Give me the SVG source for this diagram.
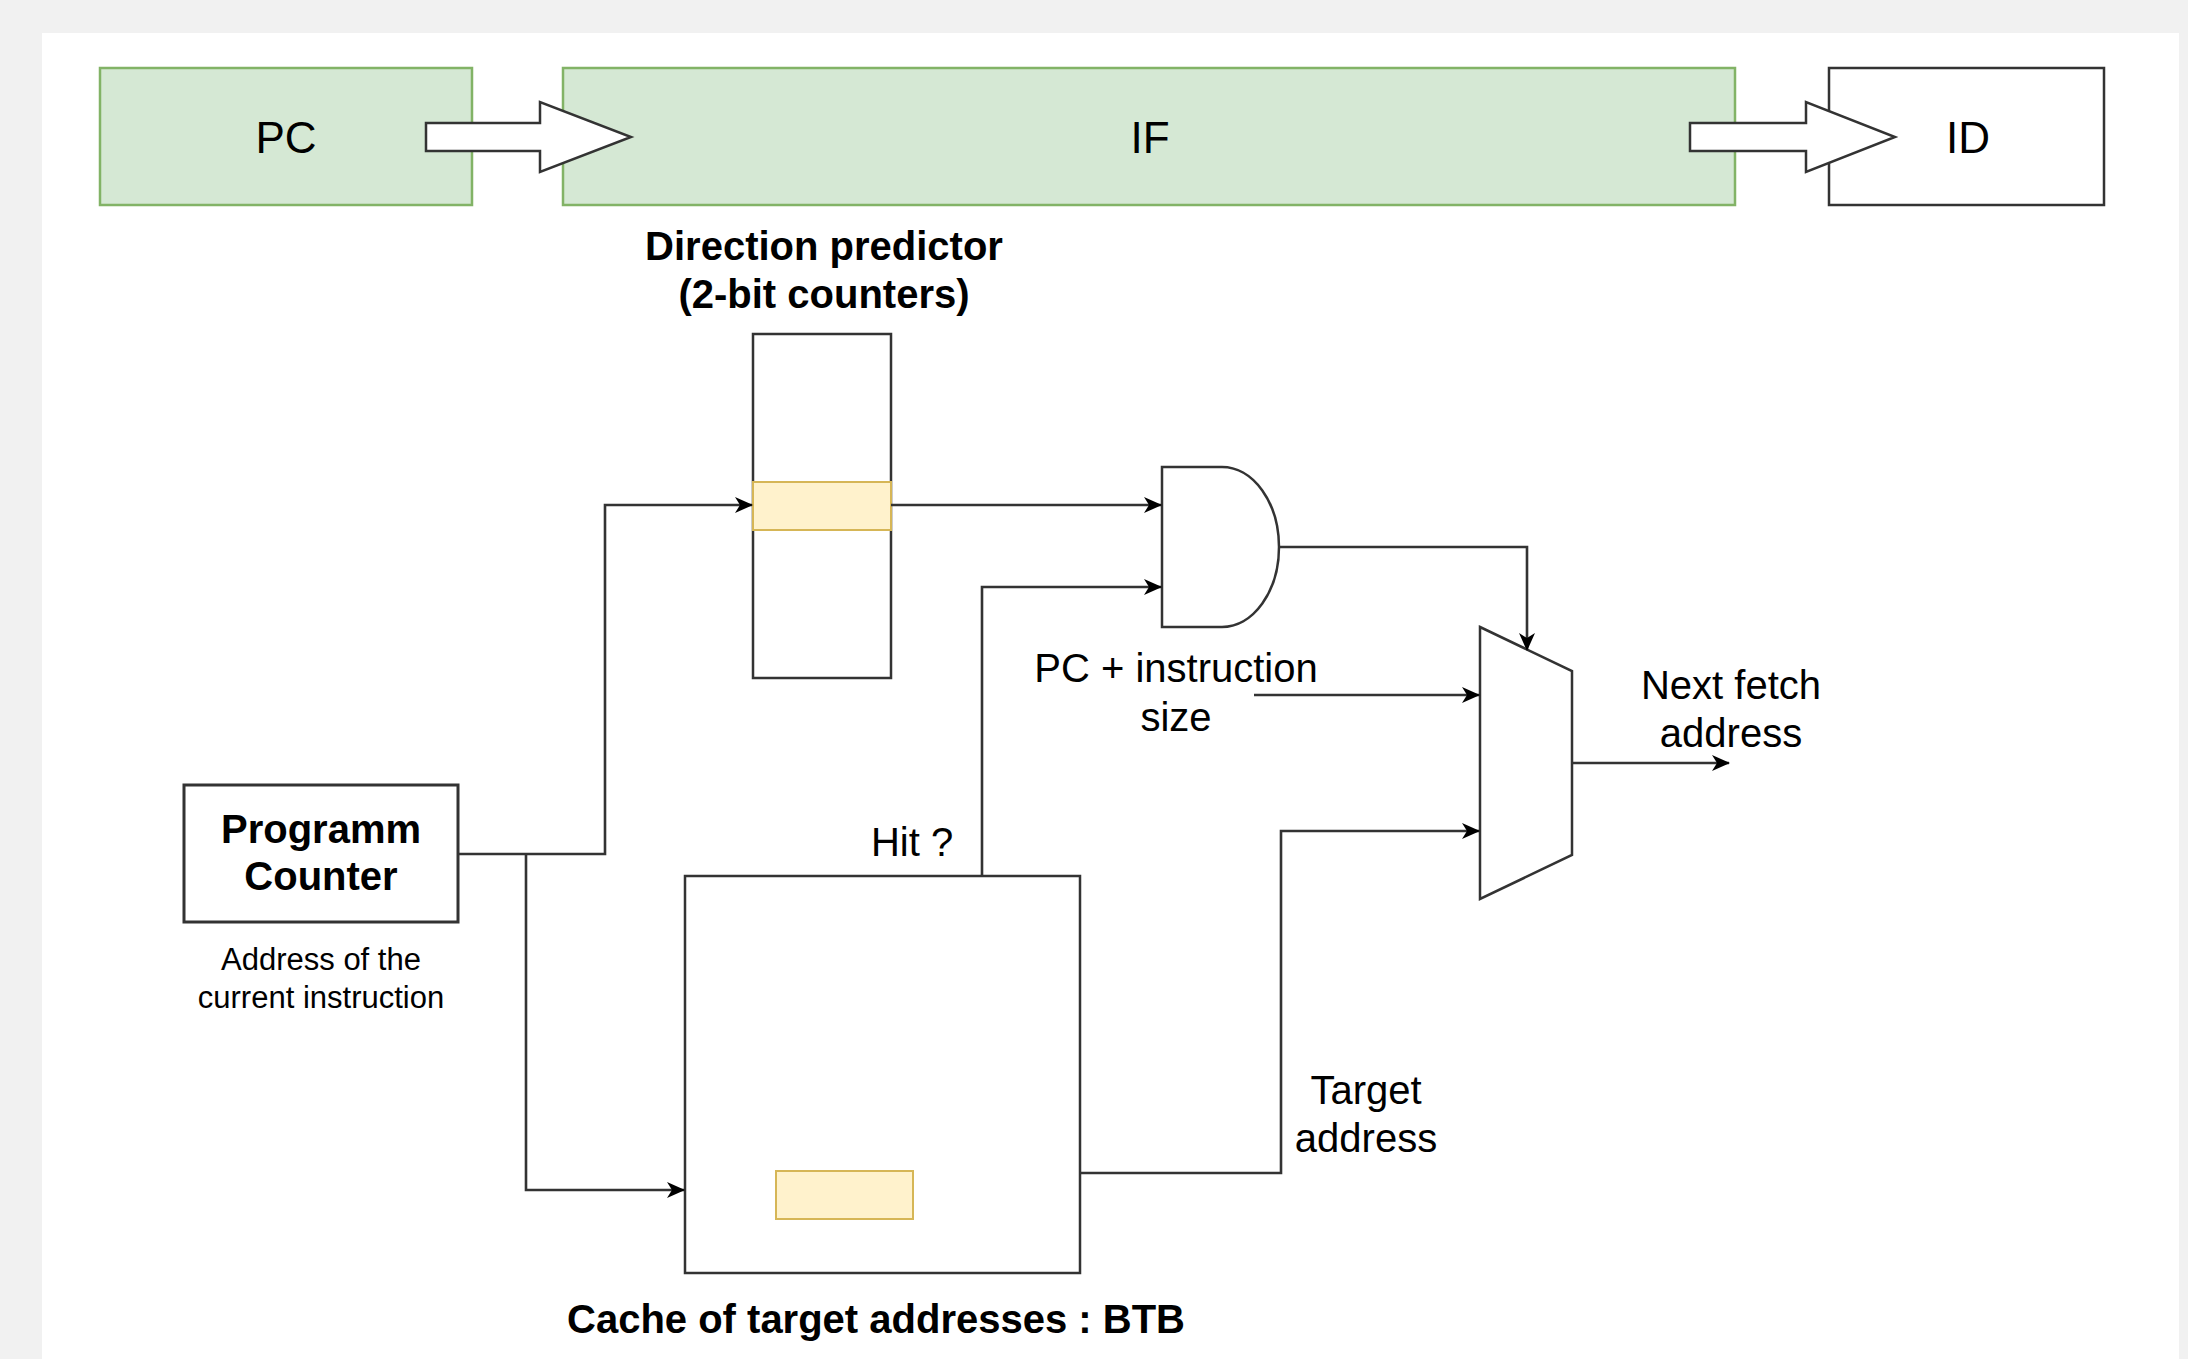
<svg xmlns="http://www.w3.org/2000/svg" width="2188" height="1359" viewBox="0 0 2188 1359">
<style>
.stage{fill:#d5e8d4;stroke:#82b366;stroke-width:2.5}
.box{fill:#ffffff;stroke:#333333;stroke-width:2.5}
.hl{fill:#fff2cc;stroke:#d6b656;stroke-width:2}
.barrow{fill:#ffffff;stroke:#333333;stroke-width:2.5;stroke-linejoin:miter}
.wire{fill:none;stroke:#333333;stroke-width:2.6}
.t{font-family:"Liberation Sans",Arial,sans-serif;fill:#000000;text-anchor:middle}
.big{font-size:44px}
.lbl{font-size:40px}
.bold{font-size:40px;font-weight:bold}
.small{font-size:31px}
</style>
<defs>
<marker id="ah" viewBox="0 0 18 18" markerWidth="18" markerHeight="18" refX="17" refY="9" orient="auto" markerUnits="userSpaceOnUse">
<path d="M0,1 L18,9 L0,17 L5,9 Z" fill="#000000"/>
</marker>
</defs>
<rect x="0" y="0" width="2188" height="1359" fill="#f1f1f1"/>
<rect x="42" y="33" width="2137" height="1326" fill="#ffffff"/>

<g id="stage-pc">
<rect class="stage" x="100" y="68" width="372" height="137"/>
<text class="t big" x="286" y="153">PC</text>
</g>
<g id="stage-if">
<rect class="stage" x="563" y="68" width="1172" height="137"/>
<text class="t big" x="1150" y="153">IF</text>
</g>
<g id="stage-id">
<rect class="box" x="1829" y="68" width="275" height="137"/>
<text class="t big" x="1968" y="153">ID</text>
</g>
<g id="arrow-pc-if">
<path class="barrow" d="M426,123 L540,123 L540,102 L631,137 L540,172 L540,151 L426,151 Z"/>
</g>
<g id="arrow-if-id">
<path class="barrow" d="M1690,123 L1806,123 L1806,102 L1895,137 L1806,172 L1806,151 L1690,151 Z"/>
</g>

<g id="direction-predictor">
<rect class="box" x="753" y="334" width="138" height="344"/>
<rect class="hl" x="753" y="482" width="138" height="48"/>
<text class="t bold" x="824" y="260">Direction predictor</text>
<text class="t bold" x="824" y="308">(2-bit counters)</text>
</g>

<g id="program-counter">
<rect class="box" x="184" y="785" width="274" height="137" style="stroke-width:3"/>
<text class="t bold" x="321" y="843">Programm</text>
<text class="t bold" x="321" y="890">Counter</text>
<text class="t small" x="321" y="970">Address of the</text>
<text class="t small" x="321" y="1008">current instruction</text>
</g>

<g id="btb">
<rect class="box" x="685" y="876" width="395" height="397"/>
<rect class="hl" x="776" y="1171" width="137" height="48"/>
<text class="t bold" x="876" y="1333">Cache of target addresses : BTB</text>
</g>

<g id="and-gate">
<path class="box" d="M1162,467 L1222,467 A57,80 0 0 1 1222,627 L1162,627 Z"/>
</g>

<g id="mux">
<path class="box" d="M1480,627 L1572,671 L1572,855 L1480,899 Z"/>
</g>

<g id="connectors">
<polyline class="wire" points="458,854 605,854 605,505 752,505" marker-end="url(#ah)"/>
<polyline class="wire" points="526,854 526,1190 684,1190" marker-end="url(#ah)"/>
<line class="wire" x1="891" y1="505" x2="1161" y2="505" marker-end="url(#ah)"/>
<polyline class="wire" points="982,876 982,587 1161,587" marker-end="url(#ah)"/>
<polyline class="wire" points="1279,547 1527,547 1527,650" marker-end="url(#ah)"/>
<line class="wire" x1="1254" y1="695" x2="1479" y2="695" marker-end="url(#ah)"/>
<polyline class="wire" points="1080,1173 1281,1173 1281,831 1479,831" marker-end="url(#ah)"/>
<line class="wire" x1="1572" y1="763" x2="1729" y2="763" marker-end="url(#ah)"/>
</g>

<g id="labels">
<text class="t lbl" x="912" y="856">Hit ?</text>
<text class="t lbl" x="1176" y="682">PC + instruction</text>
<text class="t lbl" x="1176" y="731">size</text>
<text class="t lbl" x="1731" y="699">Next fetch</text>
<text class="t lbl" x="1731" y="747">address</text>
<text class="t lbl" x="1366" y="1104">Target</text>
<text class="t lbl" x="1366" y="1152">address</text>
</g>
</svg>
